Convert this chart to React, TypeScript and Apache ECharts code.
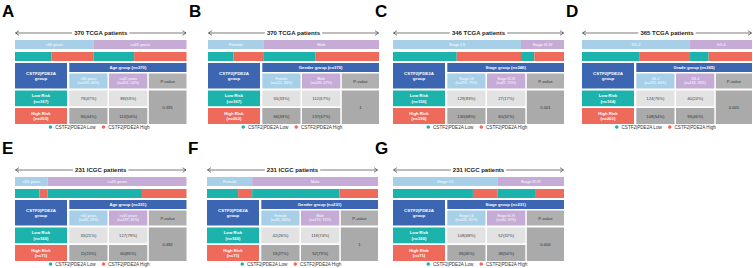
import React, { useEffect, useRef } from 'react';
import * as echarts from 'echarts';

// ---------- data ----------
const panelLabels = ['A', 'B', 'C', 'D', 'E', 'F', 'G'];
const cohortTitles = ['370 TCGA patients', '370 TCGA patients', '346 TCGA patients', '365 TCGA patients', '231 ICGC patients', '231 ICGC patients', '231 ICGC patients'];
const groupTitles = ['Age group', 'Gender group', 'Stage group', 'Grade group', 'Age group', 'Gender group', 'Stage group'];
const group1Names = ['<65 years', 'Female', 'Stage I-II', 'G1-2', '<65 years', 'Female', 'Stage I-II'];
const group2Names = ['>=65 years', 'Male', 'Stage III-IV', 'G3-4', '>=65 years', 'Male', 'Stage III-IV'];
const lowG1 = [79, 55, 129, 124, 33, 42, 108];
const lowG2 = [88, 112, 27, 40, 127, 118, 52];
const highG1 = [90, 66, 130, 108, 11, 19, 33];
const highG2 = [113, 137, 60, 93, 60, 52, 38];
const lowPct1 = [47, 33, 83, 76, 21, 26, 68];
const lowPct2 = [53, 67, 17, 24, 79, 74, 32];
const highPct1 = [44, 33, 68, 54, 15, 27, 46];
const highPct2 = [56, 67, 32, 46, 85, 73, 54];
const pValues = ['0.591', '1', '0.001', '0.001', '0.482', '1', '0.004'];
const legendNames = ['CSTF2|PDE2A Low', 'CSTF2|PDE2A High'];

// ---------- layout / style ----------
const panelLeft = [15, 208, 393, 582, 15, 207, 393];
const panelWidth = [171.5, 171, 171, 170, 171.5, 171, 171];
const panelRowOffset = [0, 0, 0, 0, 137, 137, 137];
const labelX = [2, 189, 375, 566, 2, 188, 375];

const C = {
  lightBlue: '#a7d0e8',
  purple: '#c6abd6',
  teal: '#1db3ad',
  salmon: '#ee6b5c',
  darkBlue: '#3d66b2',
  lightGrey: '#e2e2e2',
  grey: '#aaaaaa',
  pHead: '#b0b0b0',
};
const FONT = '"Liberation Sans", Arial, Helvetica, sans-serif';

function txt(x: number, y: number, text: string, size: number, fill: string, bold = false, extra: any = {}) {
  return {
    type: 'text',
    x,
    y,
    silent: true,
    z: 10,
    style: {
      text,
      fill,
      fontSize: size,
      fontWeight: bold ? 'bold' : 'normal',
      fontFamily: FONT,
      align: 'center',
      verticalAlign: 'middle',
      lineHeight: size * 1.25,
      ...extra,
    },
  };
}

function rect(x1: number, y1: number, x2: number, y2: number, fill: string) {
  return {
    type: 'rect',
    silent: true,
    shape: { x: x1, y: y1, width: x2 - x1, height: y2 - y1 },
    style: { fill },
  };
}

export default function App() {
  const ref = useRef<HTMLDivElement>(null);

  useEffect(() => {
    document.body.style.margin = '0';
    const chart = echarts.init(ref.current!, null, { renderer: 'svg' });

    const grid: any[] = [];
    const xAxis: any[] = [];
    const yAxis: any[] = [];
    const series: any[] = [];
    const legend: any[] = [];
    const graphic: any[] = [];

    panelLabels.forEach((lab, i) => {
      const L = panelLeft[i];
      const W = panelWidth[i];
      const o = panelRowOffset[i];
      const g1 = lowG1[i] + highG1[i];
      const g2 = lowG2[i] + highG2[i];
      const lowN = lowG1[i] + lowG2[i];
      const highN = highG1[i] + highG2[i];
      const total = g1 + g2;

      grid.push({ left: L, width: W, top: 38.5 + o, height: 24 });
      xAxis.push({ type: 'value', gridIndex: i, min: 0, max: total, show: false });
      yAxis.push({ type: 'category', gridIndex: i, data: ['group', 'risk'], inverse: true, show: false });

      const base = {
        type: 'bar',
        stack: 's' + i,
        xAxisIndex: i,
        yAxisIndex: i,
        barWidth: 9,
        silent: true,
      };
      const stripLabel = (name: string) => ({
        show: true,
        position: 'inside',
        formatter: name,
        color: '#ffffff',
        fontSize: 4,
        fontFamily: FONT,
      });
      series.push({ ...base, name: 'g1_' + i, data: [g1, '-'], itemStyle: { color: C.lightBlue }, label: stripLabel(group1Names[i]) });
      series.push({ ...base, name: 'g2_' + i, data: [g2, '-'], itemStyle: { color: C.purple }, label: stripLabel(group2Names[i]) });
      series.push({ ...base, name: legendNames[0], data: ['-', lowG1[i]], itemStyle: { color: C.teal } });
      series.push({ ...base, name: legendNames[1], data: ['-', highG1[i]], itemStyle: { color: C.salmon } });
      series.push({ ...base, name: legendNames[0], data: ['-', lowG2[i]], itemStyle: { color: C.teal } });
      series.push({ ...base, name: legendNames[1], data: ['-', highG2[i]], itemStyle: { color: C.salmon } });

      legend.push({
        data: legendNames,
        left: L + (W - 104) / 2,
        top: 124.5 + o,
        icon: 'circle',
        itemWidth: 3.5,
        itemHeight: 3.5,
        itemGap: 6,
        padding: 0,
        selectedMode: false,
        textStyle: { fontSize: 4.6, color: '#333', fontFamily: FONT, padding: [0, 0, 0, -2] },
      });

      // panel letter
      graphic.push({
        type: 'text',
        x: labelX[i],
        y: 3 + o,
        silent: true,
        style: { text: lab, fill: '#000', fontSize: 17, fontWeight: 'bold', fontFamily: FONT, align: 'left', verticalAlign: 'top' },
      });

      // title arrow
      const ay = 33 + o;
      graphic.push({ type: 'line', silent: true, shape: { x1: L + 0.5, y1: ay, x2: L + W - 0.5, y2: ay }, style: { stroke: '#222', lineWidth: 0.6 } });
      graphic.push({ type: 'polyline', silent: true, shape: { points: [[L + 4, ay - 2.3], [L + 0.5, ay], [L + 4, ay + 2.3]] }, style: { stroke: '#222', lineWidth: 0.6, fill: null } });
      graphic.push({ type: 'polyline', silent: true, shape: { points: [[L + W - 4, ay - 2.3], [L + W - 0.5, ay], [L + W - 4, ay + 2.3]] }, style: { stroke: '#222', lineWidth: 0.6, fill: null } });
      graphic.push(txt(L + W / 2, ay, cohortTitles[i], 6, '#222', true, { backgroundColor: '#ffffff', padding: [0, 2] }));

      // table columns
      const c0 = [L, L + 52];
      const c1 = [L + 54.3, L + 92.5];
      const c2 = [L + 94, L + 132.3];
      const c3 = [L + 133.8, L + W];
      const rH = [63 + o, 72 + o];
      const rS = [73.5 + o, 88.5 + o];
      const rL = [90.5 + o, 106.3 + o];
      const rHi = [108 + o, 124 + o];
      const mid = (a: number[]) => (a[0] + a[1]) / 2;

      graphic.push(rect(c0[0], rH[0], c0[1], rS[1], C.darkBlue));
      graphic.push(txt(mid(c0), (rH[0] + rS[1]) / 2, 'CSTF2|PDE2A\ngroup', 4.4, '#fff', true));

      graphic.push(rect(c1[0], rH[0], c3[1], rH[1], C.darkBlue));
      graphic.push(txt((c1[0] + c3[1]) / 2, mid(rH), `${groupTitles[i]} (n=${total})`, 4.2, '#fff', true));

      graphic.push(rect(c1[0], rS[0], c1[1], rS[1], C.lightBlue));
      graphic.push(txt(mid(c1), mid(rS), `${group1Names[i]}\n(n=${g1}, ${Math.round((100 * g1) / total)}%)`, 3.6, '#fff'));
      graphic.push(rect(c2[0], rS[0], c2[1], rS[1], C.purple));
      graphic.push(txt(mid(c2), mid(rS), `${group2Names[i]}\n(n=${g2}, ${Math.round((100 * g2) / total)}%)`, 3.6, '#fff'));
      graphic.push(rect(c3[0], rS[0], c3[1], rS[1], C.pHead));
      graphic.push(txt(mid(c3), mid(rS), 'P-value', 4.2, '#333'));

      graphic.push(rect(c0[0], rL[0], c0[1], rL[1], C.teal));
      graphic.push(txt(mid(c0), mid(rL), `Low Risk\n(n=${lowN})`, 4.2, '#fff', true));
      graphic.push(rect(c1[0], rL[0], c1[1], rL[1], C.lightGrey));
      graphic.push(txt(mid(c1), mid(rL), `${lowG1[i]}(${lowPct1[i]}%)`, 4.2, '#444'));
      graphic.push(rect(c2[0], rL[0], c2[1], rL[1], C.lightGrey));
      graphic.push(txt(mid(c2), mid(rL), `${lowG2[i]}(${lowPct2[i]}%)`, 4.2, '#444'));

      graphic.push(rect(c0[0], rHi[0], c0[1], rHi[1], C.salmon));
      graphic.push(txt(mid(c0), mid(rHi), `High Risk\n(n=${highN})`, 4.2, '#fff', true));
      graphic.push(rect(c1[0], rHi[0], c1[1], rHi[1], C.grey));
      graphic.push(txt(mid(c1), mid(rHi), `${highG1[i]}(${highPct1[i]}%)`, 4.2, '#333'));
      graphic.push(rect(c2[0], rHi[0], c2[1], rHi[1], C.grey));
      graphic.push(txt(mid(c2), mid(rHi), `${highG2[i]}(${highPct2[i]}%)`, 4.2, '#333'));

      graphic.push(rect(c3[0], rL[0], c3[1], rHi[1], C.grey));
      graphic.push(txt(mid(c3), (rL[0] + rHi[1]) / 2, pValues[i], 4.2, '#333'));
    });

    chart.setOption({
      animation: false,
      backgroundColor: '#ffffff',
      grid,
      xAxis,
      yAxis,
      series,
      legend,
      graphic,
      tooltip: { show: false },
    });

    return () => chart.dispose();
  }, []);

  return <div ref={ref} style={{ width: 753, height: 268, background: '#fff' }} />;
}
